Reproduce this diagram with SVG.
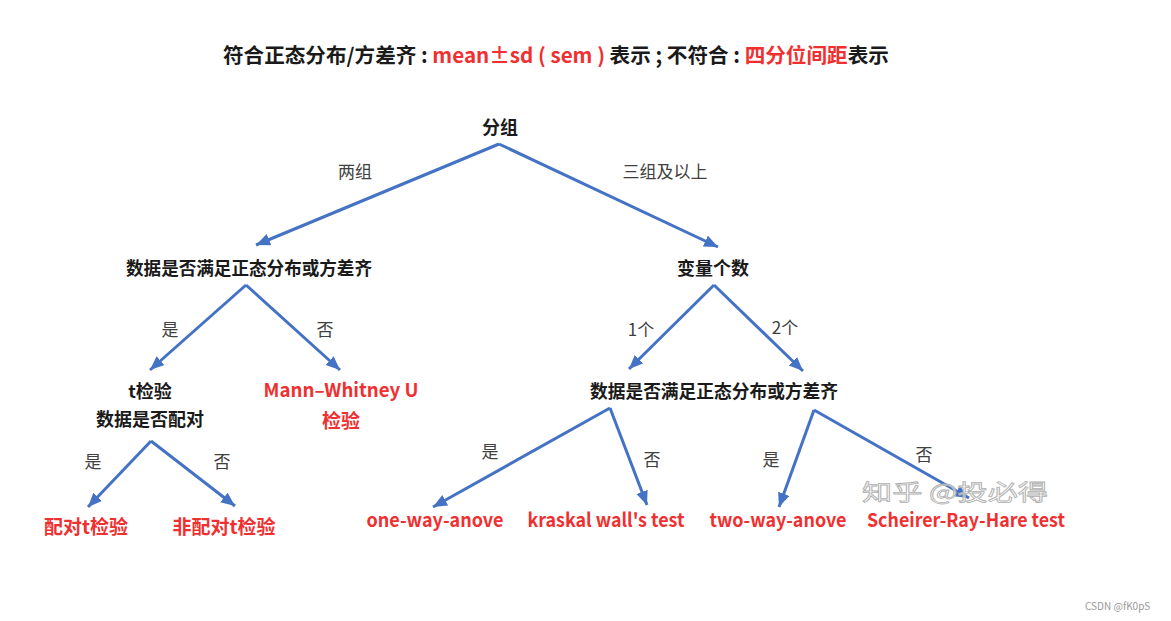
<svg xmlns="http://www.w3.org/2000/svg" width="1171" height="621" viewBox="0 0 1171 621">
<style>
text{font-family:"Noto Sans CJK SC","Liberation Sans",sans-serif;}
.title{font-size:20.6px;font-weight:bold;fill:#1a1a1a;}
.tred{fill:#f03030;}
.node{font-size:18px;font-weight:bold;fill:#1a1a1a;text-anchor:middle;}
.res{font-size:19px;font-weight:bold;fill:#f03030;text-anchor:middle;}
.lbl{font-size:17px;fill:#404040;text-anchor:middle;}
.edge{stroke:#4472c4;stroke-width:3;fill:none;}
</style>
<defs>
<marker id="ah" markerUnits="userSpaceOnUse" markerWidth="16" markerHeight="14" refX="14" refY="6" orient="auto">
<path d="M0,0 L14,6 L0,12 Z" fill="#4472c4"/>
</marker>
</defs>
<rect width="1171" height="621" fill="#ffffff"/>
<g id="title">
<text class="title" x="223" y="63" xml:space="preserve">符合正态分布/方差齐 : <tspan class="tred">mean±sd ( sem )</tspan> 表示 ; 不符合 : <tspan class="tred">四分位间距</tspan>表示</text>
</g>
<g id="connectors">
<path class="edge" d="M499,144 L256,245" marker-end="url(#ah)"/>
<path class="edge" d="M499,144 L718,247" marker-end="url(#ah)"/>
<path class="edge" d="M246,285 L150,370" marker-end="url(#ah)"/>
<path class="edge" d="M246,285 L340,370" marker-end="url(#ah)"/>
<path class="edge" d="M151,441 L88,507" marker-end="url(#ah)"/>
<path class="edge" d="M151,441 L235,506" marker-end="url(#ah)"/>
<path class="edge" d="M714,285 L629,369" marker-end="url(#ah)"/>
<path class="edge" d="M714,285 L803,371" marker-end="url(#ah)"/>
<path class="edge" d="M610,408 L433,507" marker-end="url(#ah)"/>
<path class="edge" d="M610,408 L647,505" marker-end="url(#ah)"/>
<path class="edge" d="M814,410 L779,507" marker-end="url(#ah)"/>
<path class="edge" d="M814,410 L969,498" marker-end="url(#ah)"/>
<text class="lbl" x="355" y="178">两组</text>
<text class="lbl" x="665" y="178">三组及以上</text>
<text class="lbl" x="170" y="336">是</text>
<text class="lbl" x="325" y="336">否</text>
<text class="lbl" x="93" y="468">是</text>
<text class="lbl" x="222" y="468">否</text>
<text class="lbl" x="641" y="336">1个</text>
<text class="lbl" x="785" y="334">2个</text>
<text class="lbl" x="490" y="458">是</text>
<text class="lbl" x="652" y="466">否</text>
<text class="lbl" x="771" y="466">是</text>
<text class="lbl" x="924" y="461">否</text>
</g>
<g id="n-root"><text class="node" x="500" y="134" font-size="20">分组</text></g>
<g id="n-normal2"><text class="node" x="249" y="275" textLength="246" lengthAdjust="spacingAndGlyphs">数据是否满足正态分布或方差齐</text></g>
<g id="n-varcount"><text class="node" x="713" y="275">变量个数</text></g>
<g id="n-ttest"><text class="node" x="150" y="398">t检验</text><text class="node" x="150" y="426">数据是否配对</text></g>
<g id="n-mann"><text class="res" x="341" y="397" textLength="155" lengthAdjust="spacingAndGlyphs">Mann–Whitney U</text><text class="res" x="341" y="428">检验</text></g>
<g id="n-paired"><text class="res" x="86" y="534">配对t检验</text></g>
<g id="n-unpaired"><text class="res" x="224" y="534">非配对t检验</text></g>
<g id="n-normal3"><text class="node" x="714" y="398" textLength="248" lengthAdjust="spacingAndGlyphs">数据是否满足正态分布或方差齐</text></g>
<g id="n-oneway"><text class="res" x="435" y="527" textLength="137" lengthAdjust="spacingAndGlyphs">one-way-anove</text></g>
<g id="n-kraskal"><text class="res" x="606" y="527" textLength="157" lengthAdjust="spacingAndGlyphs">kraskal wall's test</text></g>
<g id="n-twoway"><text class="res" x="778" y="527" textLength="137" lengthAdjust="spacingAndGlyphs">two-way-anove</text></g>
<g id="n-scheirer"><text class="res" x="966" y="527" textLength="198" lengthAdjust="spacingAndGlyphs">Scheirer-Ray-Hare test</text></g>
<text x="862" y="500" font-size="22" fill="#ffffff" fill-opacity="0.6" stroke="#b0b0b0" stroke-width="0.8" textLength="186" lengthAdjust="spacingAndGlyphs">知乎 @投必得</text>
<text x="1085" y="610" font-size="10" fill="#999999">CSDN @fK0pS</text>
</svg>
